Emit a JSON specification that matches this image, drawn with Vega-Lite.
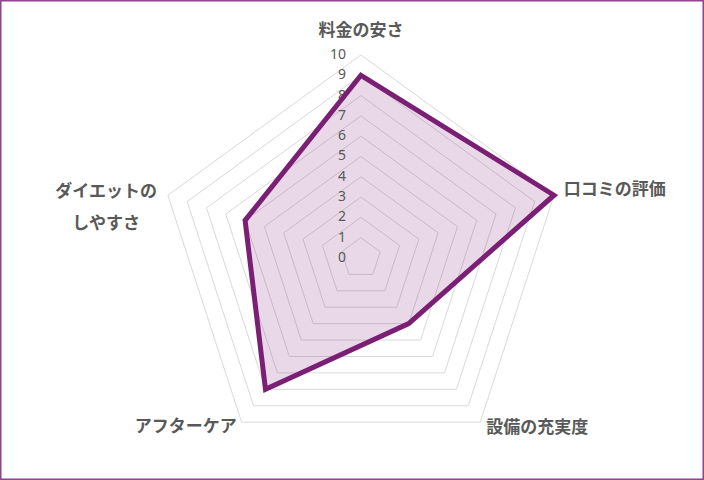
{
  "$schema": "https://vega.github.io/schema/vega-lite/v6.json",
  "width": 704,
  "height": 480,
  "autosize": {"type": "fit", "contains": "padding"},
  "padding": 0,
  "background": "white",
  "view": {"stroke": "#8F4391", "strokeWidth": 3},
  "datasets": {
    "scores": [
      {"項目": "料金の安さ", "値": 9, "順": 0},
      {"項目": "口コミの評価", "値": 10, "順": 1},
      {"項目": "設備の充実度", "値": 4, "順": 2},
      {"項目": "アフターケア", "値": 8, "順": 3},
      {"項目": "ダイエットの\nしやすさ", "値": 6, "順": 4}
    ],
    "ticks": [
      {"目盛": 0}, {"目盛": 1}, {"目盛": 2}, {"目盛": 3}, {"目盛": 4}, {"目盛": 5},
      {"目盛": 6}, {"目盛": 7}, {"目盛": 8}, {"目盛": 9}, {"目盛": 10}
    ],
    "grid": [
      {"目盛": 1, "順": 0}, {"目盛": 1, "順": 1}, {"目盛": 1, "順": 2}, {"目盛": 1, "順": 3}, {"目盛": 1, "順": 4},
      {"目盛": 2, "順": 0}, {"目盛": 2, "順": 1}, {"目盛": 2, "順": 2}, {"目盛": 2, "順": 3}, {"目盛": 2, "順": 4},
      {"目盛": 3, "順": 0}, {"目盛": 3, "順": 1}, {"目盛": 3, "順": 2}, {"目盛": 3, "順": 3}, {"目盛": 3, "順": 4},
      {"目盛": 4, "順": 0}, {"目盛": 4, "順": 1}, {"目盛": 4, "順": 2}, {"目盛": 4, "順": 3}, {"目盛": 4, "順": 4},
      {"目盛": 5, "順": 0}, {"目盛": 5, "順": 1}, {"目盛": 5, "順": 2}, {"目盛": 5, "順": 3}, {"目盛": 5, "順": 4},
      {"目盛": 6, "順": 0}, {"目盛": 6, "順": 1}, {"目盛": 6, "順": 2}, {"目盛": 6, "順": 3}, {"目盛": 6, "順": 4},
      {"目盛": 7, "順": 0}, {"目盛": 7, "順": 1}, {"目盛": 7, "順": 2}, {"目盛": 7, "順": 3}, {"目盛": 7, "順": 4},
      {"目盛": 8, "順": 0}, {"目盛": 8, "順": 1}, {"目盛": 8, "順": 2}, {"目盛": 8, "順": 3}, {"目盛": 8, "順": 4},
      {"目盛": 9, "順": 0}, {"目盛": 9, "順": 1}, {"目盛": 9, "順": 2}, {"目盛": 9, "順": 3}, {"目盛": 9, "順": 4},
      {"目盛": 10, "順": 0}, {"目盛": 10, "順": 1}, {"目盛": 10, "順": 2}, {"目盛": 10, "順": 3}, {"目盛": 10, "順": 4}
    ]
  },
  "encoding": {
    "x": {"field": "px", "type": "quantitative", "axis": null,
          "scale": {"domain": [-17.78, 16.9], "nice": false, "zero": false}},
    "y": {"field": "py", "type": "quantitative", "axis": null,
          "scale": {"domain": [-10.94, 12.71], "nice": false, "zero": false}}
  },
  "layer": [
    {
      "data": {"name": "grid"},
      "transform": [
        {"calculate": "PI / 2 - datum['順'] * 2 * PI / 5", "as": "angle"},
        {"calculate": "datum['目盛'] * cos(datum.angle)", "as": "px"},
        {"calculate": "datum['目盛'] * sin(datum.angle)", "as": "py"}
      ],
      "mark": {"type": "line", "interpolate": "linear-closed", "stroke": "#D9D9D9", "strokeWidth": 1},
      "encoding": {
        "detail": {"field": "目盛", "type": "nominal"},
        "order": {"field": "順", "type": "quantitative"}
      }
    },
    {
      "data": {"name": "scores"},
      "transform": [
        {"calculate": "PI / 2 - datum['順'] * 2 * PI / 5", "as": "angle"},
        {"calculate": "datum['値'] * cos(datum.angle)", "as": "px"},
        {"calculate": "datum['値'] * sin(datum.angle)", "as": "py"}
      ],
      "mark": {"type": "line", "interpolate": "linear-closed", "fill": "#7A1F74", "fillOpacity": 0.17, "strokeOpacity": 0},
      "encoding": {"order": {"field": "順", "type": "quantitative"}}
    },
    {
      "data": {"name": "ticks"},
      "transform": [
        {"calculate": "0", "as": "px"},
        {"calculate": "datum['目盛']", "as": "py"}
      ],
      "mark": {"type": "text", "align": "right", "baseline": "middle", "dx": -15,
               "font": "Noto Sans", "fontSize": 14, "fill": "#595959"},
      "encoding": {"text": {"field": "目盛", "type": "quantitative"}}
    },
    {
      "data": {"name": "scores"},
      "transform": [
        {"calculate": "PI / 2 - datum['順'] * 2 * PI / 5", "as": "angle"},
        {"calculate": "datum['値'] * cos(datum.angle)", "as": "px"},
        {"calculate": "datum['値'] * sin(datum.angle)", "as": "py"}
      ],
      "mark": {"type": "line", "interpolate": "linear-closed", "stroke": "#7A1F74", "strokeWidth": 5, "strokeJoin": "miter"},
      "encoding": {"order": {"field": "順", "type": "quantitative"}}
    },
    {
      "data": {"name": "scores"},
      "transform": [
        {"filter": "datum['順'] == 0"},
        {"calculate": "0", "as": "px"},
        {"calculate": "11.2", "as": "py"}
      ],
      "mark": {"type": "text", "align": "center", "baseline": "middle",
               "font": "Noto Sans CJK JP", "fontWeight": "bold", "fontSize": 17, "fill": "#595959"},
      "encoding": {"text": {"field": "項目"}}
    },
    {
      "data": {"name": "scores"},
      "transform": [
        {"filter": "datum['順'] == 1 || datum['順'] == 2"},
        {"calculate": "PI / 2 - datum['順'] * 2 * PI / 5", "as": "angle"},
        {"calculate": "10.5 * cos(datum.angle)", "as": "px"},
        {"calculate": "10.5 * sin(datum.angle)", "as": "py"}
      ],
      "mark": {"type": "text", "align": "left", "baseline": "middle", "dy": -2,
               "font": "Noto Sans CJK JP", "fontWeight": "bold", "fontSize": 17, "fill": "#595959"},
      "encoding": {"text": {"field": "項目"}}
    },
    {
      "data": {"name": "scores"},
      "transform": [
        {"filter": "datum['順'] == 3"},
        {"calculate": "PI / 2 - datum['順'] * 2 * PI / 5", "as": "angle"},
        {"calculate": "10.5 * cos(datum.angle)", "as": "px"},
        {"calculate": "10.5 * sin(datum.angle)", "as": "py"}
      ],
      "mark": {"type": "text", "align": "right", "baseline": "middle", "dy": -3, "dx": 1,
               "font": "Noto Sans CJK JP", "fontWeight": "bold", "fontSize": 17, "fill": "#595959"},
      "encoding": {"text": {"field": "項目"}}
    },
    {
      "data": {"name": "scores"},
      "transform": [
        {"filter": "datum['順'] == 4"},
        {"calculate": "PI / 2 - datum['順'] * 2 * PI / 5", "as": "angle"},
        {"calculate": "13.2 * cos(datum.angle)", "as": "px"},
        {"calculate": "13.2 * sin(datum.angle)", "as": "py"}
      ],
      "mark": {"type": "text", "align": "center", "baseline": "middle", "dy": 17,
               "lineBreak": "\n", "lineHeight": 32,
               "font": "Noto Sans CJK JP", "fontWeight": "bold", "fontSize": 17, "fill": "#595959"},
      "encoding": {"text": {"field": "項目"}}
    }
  ]
}
